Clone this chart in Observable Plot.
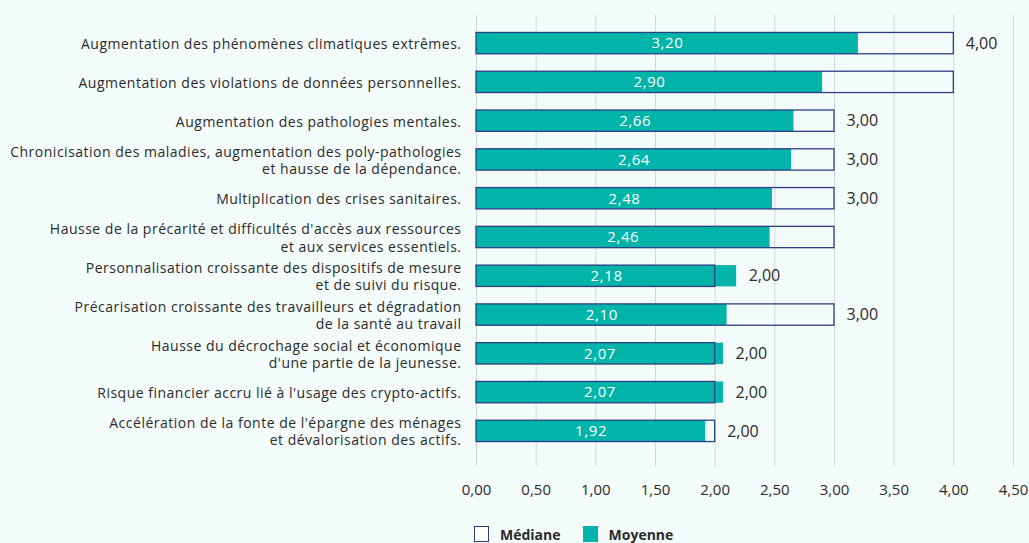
<!DOCTYPE html>
<html>
<head>
<meta charset="utf-8">
<script src="https://cdn.jsdelivr.net/npm/d3@7"></script>
<script src="https://cdn.jsdelivr.net/npm/@observablehq/plot@0.6"></script>
<style>
  html, body { margin: 0; padding: 0; background: #f4fbfb; }
  #chart svg { display: block; }
  .catlab text { letter-spacing: 0.5px; }
  .vallab text { letter-spacing: 0.6px; }
  .legend { display: flex; align-items: center; height: 20px; margin-left: 474px; margin-top: 13px; font-family: "Open Sans", sans-serif; font-weight: 700; font-size: 14px; color: #2b2b2b; }
  .legend .sw { width: 15px; height: 16px; box-sizing: border-box; margin-right: 11px; }
  .legend .item { display: flex; align-items: center; margin-right: 22px; }
</style>
</head>
<body>
<div id="chart"></div>
<div class="legend">
  <div class="item"><div class="sw" style="border:1.5px solid #2c3f84;background:#ffffff"></div>Médiane</div>
  <div class="item"><div class="sw" style="background:#00b4a9"></div>Moyenne</div>
</div>
<script>
const categories = [
  "Augmentation des phénomènes climatiques extrêmes.",
  "Augmentation des violations de données personnelles.",
  "Augmentation des pathologies mentales.",
  "Chronicisation des maladies, augmentation des poly-pathologies\net hausse de la dépendance.",
  "Multiplication des crises sanitaires.",
  "Hausse de la précarité et difficultés d'accès aux ressources\net aux services essentiels.",
  "Personnalisation croissante des dispositifs de mesure\net de suivi du risque.",
  "Précarisation croissante des travailleurs et dégradation\nde la santé au travail",
  "Hausse du décrochage social et économique\nd'une partie de la jeunesse.",
  "Risque financier accru lié à l'usage des crypto-actifs.",
  "Accélération de la fonte de l'épargne des ménages\net dévalorisation des actifs."
];
const moyenne = [3.20, 2.90, 2.66, 2.64, 2.48, 2.46, 2.18, 2.10, 2.07, 2.07, 1.92];
const mediane = [4.00, 4.00, 3.00, 3.00, 3.00, 3.00, 2.00, 3.00, 2.00, 2.00, 2.00];
const medianeLabelShown = [true, false, true, true, true, false, true, true, true, true, true];
const xTicks = [0, 0.5, 1, 1.5, 2, 2.5, 3, 3.5, 4, 4.5];

const data = categories.map((c, i) => ({
  cat: c, moy: moyenne[i], med: mediane[i], show: medianeLabelShown[i]
}));
const fmt = v => v.toFixed(2).replace(".", ",");

const chart = Plot.plot({
  width: 1029,
  height: 511,
  marginLeft: 476,
  marginRight: 16,
  marginTop: 15,
  marginBottom: 52,
  style: { background: "#f4fbfb", fontFamily: "'Open Sans', sans-serif", color: "#2b2b2b" },
  x: { domain: [0, 4.5], ticks: xTicks, tickFormat: fmt, label: null },
  y: { domain: categories, padding: 0.45, round: false, axis: null },
  marks: [
    Plot.ruleX(xTicks, { stroke: "#d3d6d8", strokeWidth: 1, strokeOpacity: 1, insetTop: 0, insetBottom: -7 }),
    Plot.axisX({ ticks: xTicks, tickFormat: fmt, tickSize: 0, tickPadding: 25, fontSize: 15, fill: "#2b2b2b", label: null }),
    Plot.barX(data, { x: "moy", y: "cat", fill: "#00b4a9" }),
    Plot.barX(data, { x: "med", y: "cat", fill: "none", stroke: "#2c3f84", strokeWidth: 1.3 }),
    Plot.text(data, { x: d => d.moy / 2, y: "cat", text: d => fmt(d.moy), fill: "white", fontSize: 15, className: "vallab" }),
    Plot.text(data.filter(d => d.show), { x: d => Math.max(d.med, d.moy), y: "cat", text: d => fmt(d.med), textAnchor: "start", dx: 12, fontSize: 16, fill: "#2b2b2b" }),
    Plot.text(data, { x: 0, y: "cat", text: "cat", textAnchor: "end", dx: -15, fontSize: 14, lineHeight: 1.22, fill: "#2b2b2b", className: "catlab" })
  ]
});
document.getElementById("chart").appendChild(chart);
</script>
</body>
</html>
